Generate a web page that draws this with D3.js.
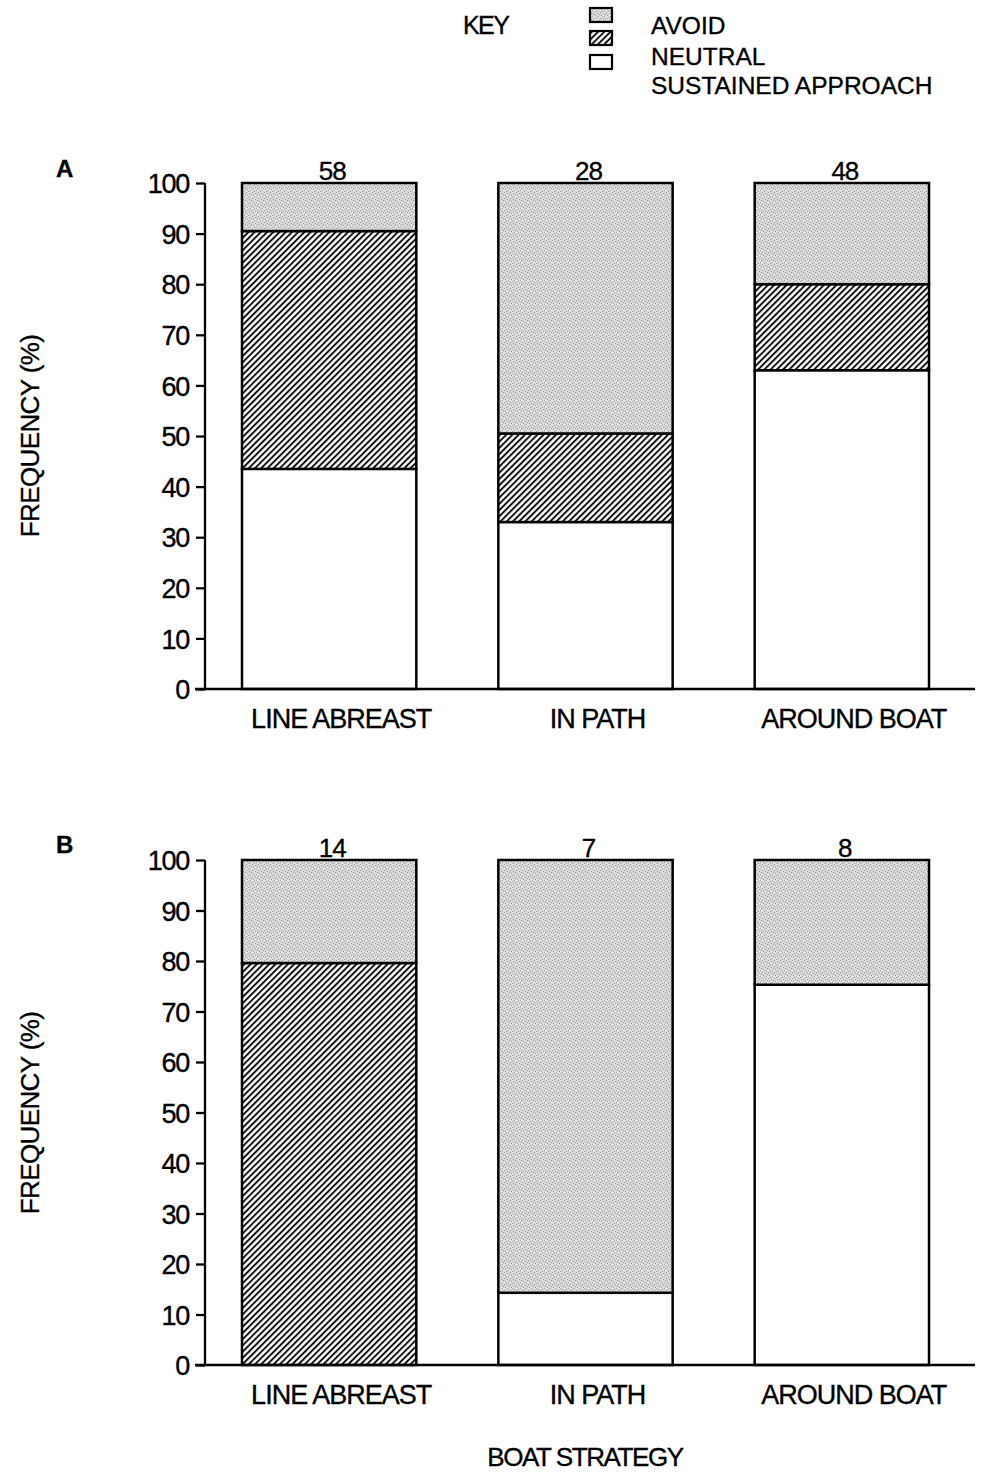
<!DOCTYPE html>
<html>
<head>
<meta charset="utf-8">
<script src="https://cdn.jsdelivr.net/npm/d3@7"></script>
<style>
  html, body { margin: 0; padding: 0; background: #fff; }
  svg { display: block; }
  text { font-family: "Liberation Sans", Arial, Helvetica, sans-serif; fill: #000; stroke: #000; stroke-width: 0.35px; }
</style>
</head>
<body>
<svg id="chart" width="985" height="1481"></svg>
<script>
// ---------- DATA ----------
const categories = ["LINE ABREAST", "IN PATH", "AROUND BOAT"];
const seriesNames = ["SUSTAINED APPROACH", "NEUTRAL", "AVOID"];
const legendOrder = ["AVOID", "NEUTRAL", "SUSTAINED APPROACH"];

const countsA = [58, 28, 48];
const sustainedA = [43.5, 33, 63];
const neutralA = [47, 17.5, 17];
const avoidA = [9.5, 49.5, 20];

const countsB = [14, 7, 8];
const sustainedB = [0, 14.3, 75.3];
const neutralB = [79.6, 0, 0];
const avoidB = [20.4, 85.7, 24.7];

const yTicks = [0, 10, 20, 30, 40, 50, 60, 70, 80, 90, 100];
const panelLabels = ["A", "B"];
const yTitle = "FREQUENCY (%)";
const xTitle = "BOAT STRATEGY";
const keyTitle = "KEY";

// ---------- SETUP ----------
const svg = d3.select("#chart");
const defs = svg.append("defs");

// stipple gray pattern (fixed dot layout)
const stip = defs.append("pattern").attr("id", "stipple")
  .attr("patternUnits", "userSpaceOnUse").attr("width", 6).attr("height", 6);
stip.append("rect").attr("width", 6).attr("height", 6).attr("fill", "#d8d8d8");
[[0,0],[3,1],[1,3],[4,4],[2,5],[5,2]].forEach(([x,y]) =>
  stip.append("rect").attr("x", x).attr("y", y).attr("width", 1).attr("height", 1).attr("fill", "#999"));
[[2,0],[5,4],[0,4],[3,3]].forEach(([x,y]) =>
  stip.append("rect").attr("x", x).attr("y", y).attr("width", 1).attr("height", 1).attr("fill", "#f2f2f2"));

// diagonal hatch
const hatch = defs.append("pattern").attr("id", "hatch")
  .attr("patternUnits", "userSpaceOnUse").attr("width", 4.4).attr("height", 10)
  .attr("patternTransform", "rotate(45)");
hatch.append("rect").attr("width", 4.4).attr("height", 10).attr("fill", "#fff");
hatch.append("line").attr("x1", 1).attr("y1", 0).attr("x2", 1).attr("y2", 10)
  .attr("stroke", "#000").attr("stroke-width", 1.8);

const fills = {
  "AVOID": "url(#stipple)",
  "NEUTRAL": "url(#hatch)",
  "SUSTAINED APPROACH": "#fff"
};

const x = d3.scaleBand().domain(categories).range([242, 929]).paddingInner(0.32).paddingOuter(0);

function drawPanel(label, yRange, counts, sustained, neutral, avoid, labelY, letterY, titleY) {
  const y = d3.scaleLinear().domain([0, 100]).range(yRange);
  const g = svg.append("g");

  const rows = categories.map((c, i) => ({
    cat: c, "SUSTAINED APPROACH": sustained[i], "NEUTRAL": neutral[i], "AVOID": avoid[i]
  }));
  const stack = d3.stack().keys(seriesNames)(rows);

  stack.forEach(layer => {
    g.append("g").selectAll("rect").data(layer.filter(d => d[1] - d[0] > 0)).join("rect")
      .attr("x", d => x(d.data.cat))
      .attr("width", x.bandwidth())
      .attr("y", d => y(d[1]))
      .attr("height", d => y(d[0]) - y(d[1]))
      .attr("fill", fills[layer.key])
      .attr("stroke", "#000")
      .attr("stroke-width", 2.5);
  });

  // y axis
  const yAxis = d3.axisLeft(y).tickValues(yTicks).tickSize(9).tickPadding(7).tickFormat(d3.format("d"));
  const ya = g.append("g").attr("transform", "translate(205,0)").call(yAxis);
  ya.select(".domain").attr("stroke-width", 2.3).attr("d", `M0,${y(0)}V${y(100)}`);
  ya.selectAll(".tick line").attr("stroke-width", 2.3);
  ya.selectAll(".tick text").attr("font-size", 27).attr("font-family", "Liberation Sans, Arial, sans-serif")
    .attr("letter-spacing", -1.3).attr("dy", "0.36em");

  // x axis baseline
  g.append("line").attr("x1", 195).attr("x2", 975).attr("y1", y(0)).attr("y2", y(0))
    .attr("stroke", "#000").attr("stroke-width", 2.6);

  // category labels
  g.selectAll("text.cat").data(categories).join("text").attr("class", "cat")
    .attr("x", d => x(d) + x.bandwidth() / 2 + 12)
    .attr("y", labelY)
    .attr("text-anchor", "middle").attr("font-size", 27).attr("letter-spacing", -1)
    .text(d => d);

  // counts
  g.selectAll("text.cnt").data(counts).join("text").attr("class", "cnt")
    .attr("x", (d, i) => x(categories[i]) + x.bandwidth() / 2 + 3)
    .attr("y", y(100) - 3)
    .attr("text-anchor", "middle").attr("font-size", 26).attr("letter-spacing", -1)
    .text(d => d);

  // panel letter
  g.append("text").attr("x", 56).attr("y", letterY).attr("font-size", 24).attr("font-weight", "bold")
    .text(label);

  // y title
  g.append("text").attr("transform", `translate(39,${titleY}) rotate(-90)`)
    .attr("text-anchor", "middle").attr("font-size", 26).attr("letter-spacing", -0.6)
    .text(yTitle);
}

drawPanel(panelLabels[0], [689, 183], countsA, sustainedA, neutralA, avoidA, 728, 177, 436);
drawPanel(panelLabels[1], [1365, 860], countsB, sustainedB, neutralB, avoidB, 1404, 853, 1113);

// x title
svg.append("text").attr("x", 585).attr("y", 1466).attr("text-anchor", "middle")
  .attr("font-size", 26).attr("letter-spacing", -1.4).text(xTitle);

// legend
const leg = svg.append("g");
leg.append("text").attr("x", 463).attr("y", 34).attr("font-size", 25).attr("letter-spacing", -1.6).text(keyTitle);
const legY = [8, 31, 55];
const legTextY = [34, 65, 94];
legendOrder.forEach((k, i) => {
  leg.append("rect").attr("x", 590).attr("y", legY[i]).attr("width", 22).attr("height", 14)
    .attr("fill", fills[k]).attr("stroke", "#000").attr("stroke-width", 2.2);
  leg.append("text").attr("x", 651).attr("y", legTextY[i]).attr("font-size", 24.5).attr("letter-spacing", 0)
    .text(k);
});
</script>
</body>
</html>
